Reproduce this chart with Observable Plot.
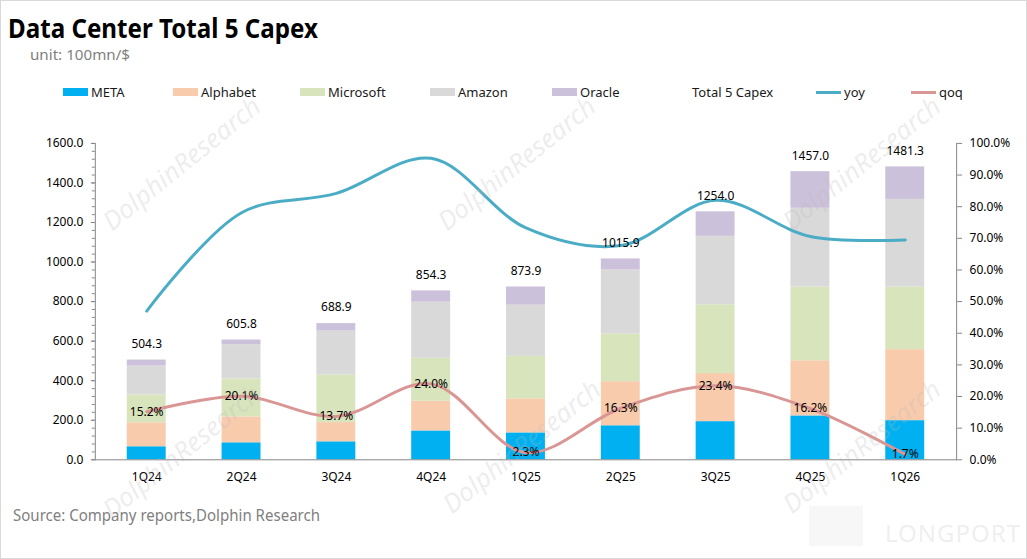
<!DOCTYPE html>
<html><head><meta charset="utf-8">
<script src="https://cdn.jsdelivr.net/npm/d3@7"></script>
<script src="https://cdn.jsdelivr.net/npm/@observablehq/plot@0.6"></script>
<style>
body{margin:0;background:#fff;}
#wrap{position:relative;width:1027px;height:559px;box-sizing:border-box;border:1px solid #d9d9d9;overflow:hidden;font-family:"Noto Sans",sans-serif;background:#fff;}
.fit{position:absolute;transform-origin:0 0;white-space:nowrap;line-height:1;}
#title{left:7px;top:14px;font-family:"Noto Sans",sans-serif;font-weight:bold;font-size:26px;color:#000;}
#unit{left:29px;top:47px;font-family:"Noto Sans",sans-serif;font-size:14px;color:#7f7f7f;}
#legend .item{position:absolute;top:82px;height:18px;display:flex;align-items:center;font-size:13px;color:#1a1a1a;white-space:nowrap;}
#legend .sw{width:25px;height:8px;margin-right:3px;}
#legend .ln{width:25px;height:3px;margin-right:3px;}
#chart{position:absolute;left:0;top:100px;}
#source{left:12px;top:506px;font-family:"Noto Sans",sans-serif;font-size:16px;color:#808080;}
.wm{position:absolute;font-size:26px;font-style:italic;color:rgba(185,185,185,0.25);white-space:nowrap;transform:translate(-50%,-50%) rotate(-39deg);pointer-events:none;}
#lp{position:absolute;left:884px;top:515px;font-size:24px;color:rgba(200,200,200,0.3);letter-spacing:1px;}
#lpbox{position:absolute;left:808px;top:505px;width:54px;height:40px;background:rgba(220,220,220,0.22);}
</style></head><body>
<div id="wrap">
  <div id="title" class="fit" data-w="310">Data Center Total 5 Capex</div>
  <div id="unit" class="fit" data-w="100">unit: 100mn/$</div>
  <div id="legend"></div>
  <div id="chart"></div>
  <div id="source" class="fit" data-w="307">Source: Company reports,Dolphin Research</div>
  <div id="lpbox"></div><div id="lp">LONGPORT</div>
</div>
<script>
const quarters = ["1Q24","2Q24","3Q24","4Q24","1Q25","2Q25","3Q25","4Q25","1Q26"];
const companies = ["META","Alphabet","Microsoft","Amazon","Oracle"];
const meta      = [66, 86, 91, 146, 136, 172, 193, 222, 198];
const alphabet  = [121, 131, 97, 150, 172, 223, 243, 279, 359];
const microsoft = [141, 192, 240, 217, 215, 241, 348, 372, 316];
const amazon    = [146, 173, 223, 284, 259, 324, 346, 399, 444];
const oracle    = [30.3, 23.8, 37.9, 57.3, 91.9, 55.9, 124.0, 185.0, 164.3];
const totals    = [504.3, 605.8, 688.9, 854.3, 873.9, 1015.9, 1254.0, 1457.0, 1481.3];
const yoy       = [47.0, 78.1, 84.2, 95.3, 73.3, 67.7, 82.0, 70.6, 69.5];
const qoq       = [15.2, 20.1, 13.7, 24.0, 2.3, 16.3, 23.4, 16.2, 1.7];
const leftTicks  = [0, 200, 400, 600, 800, 1000, 1200, 1400, 1600];
const rightTicks = [0, 10, 20, 30, 40, 50, 60, 70, 80, 90, 100];

const colors = ["#00B0F0","#F8CBAD","#D8E4BC","#D9D9D9","#CCC1DA"];
const yoyColor = "#4BACC6", qoqColor = "#D99694";
const K = 1600 / 100; // right axis (%) mapped onto left axis domain

const series = [meta, alphabet, microsoft, amazon, oracle];
const long = [];
companies.forEach((c, i) => quarters.forEach((q, j) => long.push({quarter: q, company: c, value: series[i][j]})));
const rows = quarters.map((q, i) => ({quarter: q, total: totals[i], yoy: yoy[i], qoq: qoq[i]}));

const chart = Plot.plot({
  width: 1027, height: 400,
  marginTop: 42, marginBottom: 41, marginLeft: 94, marginRight: 70,
  style: {background: "transparent", fontFamily: "Noto Sans", fontSize: "12px", color: "#1a1a1a"},
  x: {domain: quarters, paddingInner: 0.59, paddingOuter: 0.295, label: null},
  y: {domain: [0, 1600], label: null},
  color: {domain: companies, range: colors},
  marks: [
    Plot.barY(long, {x: "quarter", y: "value", fill: "company", order: companies}),
    Plot.line(rows, {x: "quarter", y: d => d.yoy * K, stroke: yoyColor, strokeWidth: 3, curve: "catmull-rom"}),
    Plot.line(rows, {x: "quarter", y: d => d.qoq * K, stroke: qoqColor, strokeWidth: 3, curve: "catmull-rom"}),
    Plot.text(rows, {x: "quarter", y: "total", text: d => d.total.toFixed(1), dy: -16, fontSize: 12, fill: "#000"}),
    Plot.text(rows, {x: "quarter", y: d => d.qoq * K, text: d => d.qoq.toFixed(1) + "%", fontSize: 12, fill: "#000"}),
    Plot.frame({anchor: "left", stroke: "#868686"}),
    Plot.frame({anchor: "right", stroke: "#868686"}),
    Plot.frame({anchor: "bottom", stroke: "#868686"}),
    Plot.axisY({ticks: d3.range(0, 1601, 40), tickFormat: () => "", tickSize: 3, stroke: "#868686", label: null}),
    Plot.axisY({ticks: leftTicks, tickFormat: d => d.toFixed(1), tickSize: 4, tickPadding: 8, stroke: "#868686", fill: "#000", label: null}),
    Plot.axisY({anchor: "right", ticks: rightTicks.map(t => t * K), tickFormat: d => (d / K).toFixed(1) + "%", tickSize: 5, tickPadding: 8, stroke: "#868686", fill: "#000", label: null}),
    Plot.axisX({tickSize: 0, tickPadding: 13, fill: "#000", label: null})
  ]
});
document.getElementById("chart").appendChild(chart);

// legend
const legendLayout = [
  {label: "META", left: 62, kind: "sw", color: colors[0]},
  {label: "Alphabet", left: 172, kind: "sw", color: colors[1]},
  {label: "Microsoft", left: 299, kind: "sw", color: colors[2]},
  {label: "Amazon", left: 429, kind: "sw", color: colors[3]},
  {label: "Oracle", left: 551, kind: "sw", color: colors[4]},
  {label: "Total 5 Capex", left: 663, kind: "sw", color: "#ffffff"},
  {label: "yoy", left: 815, kind: "ln", color: yoyColor},
  {label: "qoq", left: 910, kind: "ln", color: qoqColor}
];
const lg = document.getElementById("legend");
legendLayout.forEach(it => {
  const d = document.createElement("div");
  d.className = "item"; d.style.left = it.left + "px";
  const s = document.createElement("span"); s.className = it.kind; s.style.background = it.color;
  d.appendChild(s); d.appendChild(document.createTextNode(it.label));
  lg.appendChild(d);
});

// condense texts to the reference widths
document.querySelectorAll(".fit").forEach(el => {
  const w = el.getBoundingClientRect().width;
  const target = +el.dataset.w;
  if (w > 0) el.style.transform = `scaleX(${target / w})`;
});

// watermarks
const wrap = document.getElementById("wrap");
[[180,162],[515,162],[860,162],[180,450],[520,445],[860,445]].forEach(([x,y]) => {
  const w = document.createElement("div"); w.className = "wm"; w.textContent = "DolphinResearch";
  w.style.left = x + "px"; w.style.top = y + "px"; wrap.appendChild(w);
});
</script>
</body></html>
